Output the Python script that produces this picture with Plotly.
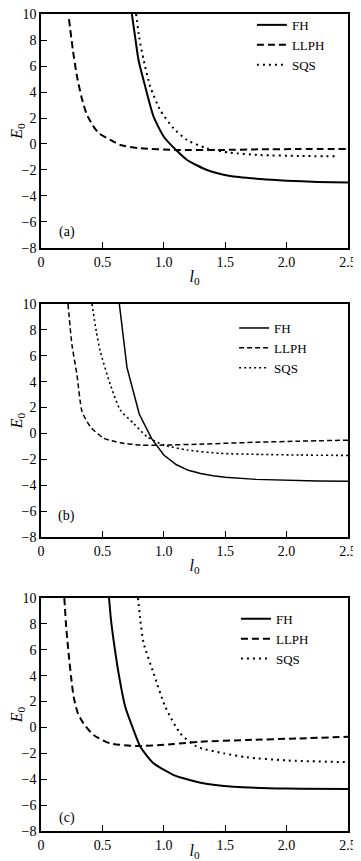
import plotly.graph_objects as go

# ---------------- data ----------------
# panel (a)
A_FH_X = [0.74, 0.77, 0.794, 0.849, 0.917, 1.0, 1.094, 1.19, 1.352, 1.54, 1.786, 2.0, 2.25, 2.5]
A_FH_Y = [10, 8, 6.46, 4.41, 2.1, 0.56, -0.41, -1.23, -2.0, -2.46, -2.69, -2.82, -2.92, -2.97]
A_LL_X = [0.228, 0.26, 0.293, 0.33, 0.369, 0.42, 0.472, 0.565, 0.646, 0.809, 1.094, 1.46, 1.786, 2.1, 2.5]
A_LL_Y = [9.6, 7.2, 5.2, 3.6, 2.36, 1.45, 0.82, 0.31, -0.08, -0.33, -0.46, -0.46, -0.41, -0.39, -0.38]
A_SQ_X = [0.774, 0.80, 0.836, 0.89, 0.971, 1.08, 1.19, 1.35, 1.54, 1.786, 2.1, 2.4]
A_SQ_Y = [10, 8.2, 6.46, 4.41, 2.6, 1.2, 0.3, -0.33, -0.67, -0.85, -0.92, -0.95]

# panel (b)
B_FH_X = [0.638, 0.7, 0.8, 0.9, 1.0, 1.1, 1.2, 1.3, 1.4, 1.5, 1.75, 2.0, 2.25, 2.5]
B_FH_Y = [10, 5.1, 1.5, -0.38, -1.67, -2.4, -2.85, -3.1, -3.27, -3.38, -3.55, -3.62, -3.67, -3.7]
B_LL_X = [0.22, 0.252, 0.293, 0.334, 0.40, 0.51, 0.646, 0.809, 1.0, 1.324, 1.786, 2.1, 2.5]
B_LL_Y = [10, 6.85, 4.53, 1.7, 0.54, -0.37, -0.72, -0.9, -0.9, -0.82, -0.67, -0.6, -0.52]
B_SQ_X = [0.415, 0.45, 0.483, 0.565, 0.646, 0.754, 0.863, 1.0, 1.19, 1.46, 1.786, 2.1, 2.5]
B_SQ_Y = [10, 7.9, 6.33, 3.76, 1.81, 0.78, -0.25, -0.9, -1.28, -1.54, -1.62, -1.67, -1.7]

# panel (c)
C_FH_X = [0.554, 0.57, 0.591, 0.632, 0.686, 0.754, 0.809, 0.917, 1.08, 1.16, 1.3, 1.57, 2.0, 2.5]
C_FH_Y = [10, 8.3, 6.75, 4.18, 1.6, -0.2, -1.49, -2.77, -3.68, -3.93, -4.27, -4.58, -4.72, -4.75]
C_LL_X = [0.19, 0.205, 0.225, 0.245, 0.266, 0.3, 0.347, 0.428, 0.564, 0.78, 1.08, 1.297, 1.677, 2.1, 2.5]
C_LL_Y = [10, 7.8, 5.7, 3.9, 2.36, 1.1, 0.3, -0.59, -1.23, -1.44, -1.28, -1.1, -0.97, -0.85, -0.72]
C_SQ_X = [0.79, 0.81, 0.836, 0.917, 1.012, 1.134, 1.27, 1.487, 1.677, 2.0, 2.5]
C_SQ_Y = [10, 8.2, 6.5, 4.18, 1.6, -0.46, -1.49, -2.0, -2.31, -2.55, -2.68]

SERIES = ["FH", "LLPH", "SQS"]
PANEL_LABELS = ["(a)", "(b)", "(c)"]
X_TICKS = [0, 0.5, 1.0, 1.5, 2.0, 2.5]
X_TICKTEXT = ["0", "0.5", "1.0", "1.5", "2.0", "2.5"]
Y_TICKS = [10, 8, 6, 4, 2, 0, -2, -4, -6, -8]

FONT = "Liberation Serif"

panels = [
    [(A_FH_X, A_FH_Y), (A_LL_X, A_LL_Y), (A_SQ_X, A_SQ_Y)],
    [(B_FH_X, B_FH_Y), (B_LL_X, B_LL_Y), (B_SQ_X, B_SQ_Y)],
    [(C_FH_X, C_FH_Y), (C_LL_X, C_LL_Y), (C_SQ_X, C_SQ_Y)],
]

line_styles = [
    [dict(width=2, dash="solid"), dict(width=2, dash="7px,4px"), dict(width=2, dash="2px,4px")],
    [dict(width=1.5, dash="solid"), dict(width=1.5, dash="5px,3px"), dict(width=1.6, dash="2px,3px")],
    [dict(width=2, dash="solid"), dict(width=2, dash="7px,4px"), dict(width=2, dash="2px,4px")],
]
shapes_per_panel = [["spline", "spline", "spline"], ["linear", "spline", "spline"], ["spline", "spline", "spline"]]

# page body adds an 8px offset; figure geometry compensates for it
W, H = 353, 853
ML, MR, MT, MB = 33, 13, 6, 30
y_domains = [[0.7136, 1.0], [0.3599, 0.6450], [0.0, 0.2852]]
legend_x = [0.687, 0.629, 0.635]
legend_y = [1.005, 0.634, 0.278]
label_y = [-6.8, -6.4, -7.0]

fig = go.Figure()
for p, panel in enumerate(panels):
    xa = "x" if p == 0 else f"x{p+1}"
    ya = "y" if p == 0 else f"y{p+1}"
    lg = "legend" if p == 0 else f"legend{p+1}"
    for s, (xs, ys) in enumerate(panel):
        st = line_styles[p][s]
        fig.add_trace(go.Scatter(
            x=xs, y=ys, mode="lines", name=SERIES[s],
            xaxis=xa, yaxis=ya, legend=lg,
            line=dict(color="black", width=st["width"], dash=st["dash"],
                      shape=shapes_per_panel[p][s], smoothing=0.6),
        ))
    fig.add_annotation(x=0.21, y=label_y[p], xref=xa, yref=ya, text=PANEL_LABELS[p],
                       showarrow=False, font=dict(family=FONT, size=14, color="black"))

axis_common = dict(showgrid=False, zeroline=False, showline=True, linecolor="black",
                   linewidth=1.5, mirror=True, ticks="inside", ticklen=6, tickwidth=1.2,
                   tickcolor="black", automargin=False, ticklabeloverflow="allow",
                   tickfont=dict(family=FONT, size=14, color="black"))

layout = dict(
    width=W, height=H, margin=dict(l=ML, r=MR, t=MT, b=MB, autoexpand=False),
    paper_bgcolor="white", plot_bgcolor="white",
    font=dict(family=FONT, color="black", size=14),
)
for p in range(3):
    sx = "" if p == 0 else str(p + 1)
    layout[f"xaxis{sx}"] = dict(axis_common, domain=[0, 1], range=[0, 2.5],
                                tickvals=X_TICKS, ticktext=X_TICKTEXT,
                                anchor=f"y{sx}",
                                title=dict(text="<i>l</i><sub>0</sub>", standoff=2,
                                           font=dict(family=FONT, size=16)))
    layout[f"yaxis{sx}"] = dict(axis_common, domain=y_domains[p], range=[-8, 10],
                                tickvals=Y_TICKS, anchor=f"x{sx}",
                                title=dict(text="<i>E</i><sub>0</sub>", standoff=0,
                                           font=dict(family=FONT, size=16)))
    lg = "legend" if p == 0 else f"legend{p+1}"
    layout[lg] = dict(x=legend_x[p], y=legend_y[p], xanchor="left", yanchor="top",
                      bgcolor="rgba(0,0,0,0)", borderwidth=0,
                      font=dict(family=FONT, size=13, color="black"),
                      tracegroupgap=0, itemwidth=30)

fig.update_layout(**layout)
fig.write_html("out.html")
